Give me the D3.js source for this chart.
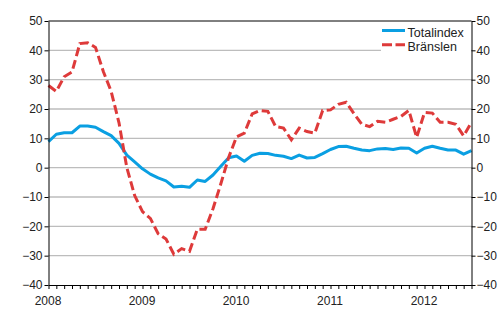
<!DOCTYPE html>
<html>
<head>
<meta charset="utf-8">
<script src="https://cdn.jsdelivr.net/npm/d3@7"></script>
<style>
  html, body { margin: 0; padding: 0; background: #fff; }
  svg { display: block; font-family: "Liberation Sans", Arial, sans-serif; }
</style>
</head>
<body>
<svg id="chart" width="500" height="330"></svg>
<script>
// Monthly year-on-year change (%), January 2008 – July 2012
const yearLabels = ["2008", "2009", "2010", "2011", "2012"];
const yTicks = [-40, -30, -20, -10, 0, 10, 20, 30, 40, 50];
const gridValues = [-30, -20, -10, 0, 10, 20, 30, 40];
const seriesNames = ["Totalindex", "Bränslen"];

const totalindex = [
  8.9, 11.4, 11.9, 11.9, 14.2, 14.2, 13.8, 12.3, 10.9, 8.3, 4.3, 2.0,
  -0.4, -2.2, -3.5, -4.5, -6.6, -6.3, -6.7, -4.2, -4.7, -2.5, 0.5, 3.4,
  4.0, 2.2, 4.2, 4.9, 4.8, 4.2, 3.9, 3.1, 4.3, 3.3, 3.5, 4.8,
  6.2, 7.2, 7.3, 6.6, 6.0, 5.8, 6.4, 6.5, 6.2, 6.7, 6.6, 5.0,
  6.6, 7.3, 6.6, 6.0, 6.0, 4.6, 5.8
];

const branslen = [
  28.0, 26.0, 31.0, 32.6, 42.3, 42.6, 41.0, 32.8, 26.0, 15.3, 0.0, -9.5,
  -15.0, -17.3, -22.5, -24.3, -29.5, -27.6, -28.5, -21.0, -21.0, -14.0, -5.5, 3.5,
  10.5, 11.8, 18.3, 19.5, 19.2, 14.0, 13.5, 9.5, 13.5, 12.3, 11.8, 19.5,
  19.7, 21.6, 22.3, 18.4, 14.8, 14.0, 15.8, 15.5, 16.5, 17.5, 19.5, 10.3,
  18.8, 18.6, 15.5, 15.5, 14.8, 10.8, 15.5
];

const months = d3.timeMonth.range(new Date(2008, 0, 1), new Date(2012, 7, 1));

const colors = { total: "#0a9fe2", fuel: "#de3a3a" };

const svg = d3.select("#chart");
const plotLeft = 48.5, plotRight = 471.5, plotTop = 21, plotBottom = 285;

const x = d3.scalePoint()
  .domain(months.map(d => +d))
  .range([plotLeft, plotRight]);

const y = d3.scaleLinear()
  .domain([-40, 50])
  .range([plotBottom, plotTop]);

// horizontal gridlines
svg.append("g")
  .selectAll("line")
  .data(gridValues)
  .join("line")
  .attr("x1", plotLeft).attr("x2", plotRight)
  .attr("y1", d => y(d)).attr("y2", d => y(d))
  .attr("stroke", "#bdbdbd")
  .attr("stroke-width", 1.3);

// series lines
const line = d3.line()
  .x((d, i) => x(+months[i]))
  .y(d => y(d));

svg.append("path")
  .datum(totalindex)
  .attr("d", line)
  .attr("fill", "none")
  .attr("stroke", colors.total)
  .attr("stroke-width", 3)
  .attr("stroke-linejoin", "round");

svg.append("path")
  .datum(branslen)
  .attr("d", line)
  .attr("fill", "none")
  .attr("stroke", colors.fuel)
  .attr("stroke-width", 3)
  .attr("stroke-dasharray", "9,4");

// frame top
svg.append("line")
  .attr("x1", plotLeft).attr("x2", plotRight)
  .attr("y1", plotTop).attr("y2", plotTop)
  .attr("stroke", "#000").attr("stroke-width", 1);

// axes
function styleAxis(g) {
  g.selectAll("path.domain").attr("stroke", "#000");
  g.selectAll(".tick line").attr("stroke", "#000");
  g.selectAll(".tick text")
    .attr("fill", "#222")
    .style("font-size", "12px")
    .style("font-family", "'Liberation Sans', Arial, sans-serif");
}

svg.append("g")
  .attr("transform", `translate(${plotLeft},0)`)
  .call(d3.axisLeft(y).tickValues(yTicks).tickSize(4).tickSizeOuter(0).tickPadding(2))
  .call(styleAxis);

svg.append("g")
  .attr("transform", `translate(${plotRight},0)`)
  .call(d3.axisRight(y).tickValues(yTicks).tickSize(4).tickSizeOuter(0).tickPadding(1))
  .call(styleAxis);

svg.append("g")
  .attr("transform", `translate(0,${plotBottom})`)
  .call(d3.axisBottom(x)
    .tickSize(4)
    .tickSizeOuter(0)
    .tickPadding(7.5)
    .tickFormat(d => {
      const dt = new Date(d);
      return dt.getMonth() === 0 ? yearLabels[dt.getFullYear() - 2008] : "";
    }))
  .call(styleAxis)
  .call(g => g.selectAll(".tick text").attr("dx", -1));

// legend
const legend = svg.append("g");
legend.append("rect")
  .attr("x", 381).attr("y", 22)
  .attr("width", 90).attr("height", 31)
  .attr("fill", "#fff");

const legendItems = [
  { name: seriesNames[0], color: colors.total, dash: null, yPos: 30.5 },
  { name: seriesNames[1], color: colors.fuel, dash: "10,3.5", yPos: 44.7 }
];

legendItems.forEach(item => {
  legend.append("line")
    .attr("x1", 382).attr("x2", 405)
    .attr("y1", item.yPos).attr("y2", item.yPos)
    .attr("stroke", item.color)
    .attr("stroke-width", 3)
    .attr("stroke-dasharray", item.dash);
  legend.append("text")
    .attr("x", 407.5)
    .attr("y", item.yPos + 6.2)
    .attr("fill", "#222")
    .style("font-size", "12.5px")
    .text(item.name);
});
</script>
</body>
</html>
